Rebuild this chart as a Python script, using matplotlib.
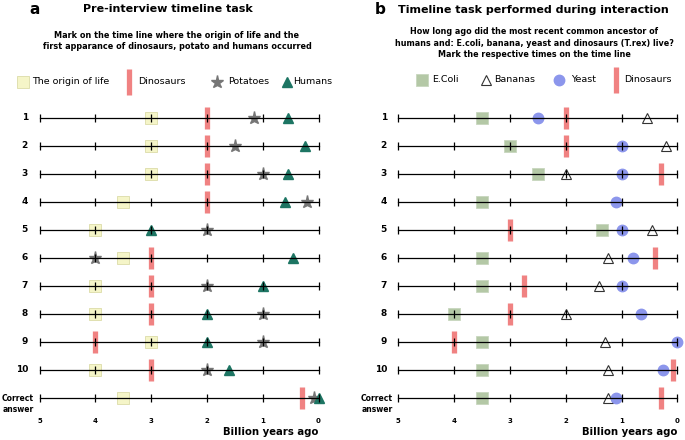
import numpy as np
import matplotlib as mplib
mplib.use('Agg')
import matplotlib.pyplot as plt

nan = np.nan

# rows: participants 1-10 plus the correct answer
row_labels = ['1', '2', '3', '4', '5', '6', '7', '8', '9', '10', 'Correct\nanswer']
time_ticks = [5, 4, 3, 2, 1, 0]

# panel a: pre-interview (billion years ago)
origin_a = [3, 3, 3, 3.5, 4, 3.5, 4, 4, 3, 4, 3.5]
dinos_a = [2, 2, 2, 2, nan, 3, 3, 3, 4, 3, 0.3]
potatoes_a = [1.15, 1.5, 1.0, 0.2, 2, 4, 2, 1, 1, 2, 0.08]
humans_a = [0.55, 0.25, 0.55, 0.6, 3, 0.45, 1, 2, 2, 1.6, 0.0]

# panel b: during interaction
ecoli_b = [3.5, 3, 2.5, 3.5, 1.35, 3.5, 3.5, 4, 3.5, 3.5, 3.5]
bananas_b = [0.55, 0.2, 2, nan, 0.45, 1.25, 1.4, 2, 1.3, 1.25, 1.25]
yeast_b = [2.5, 1, 1, 1.1, 1, 0.8, 1, 0.65, 0, 0.25, 1.1]
dinos_b = [2, 2, 0.3, nan, 3, 0.4, 2.75, 3, 4, 0.08, 0.3]

W, H = 685.0, 440.0
RED = '#f08282'
YEL = '#f5f5c8'
GREY = '#767676'
TEAL = '#1d7563'
GREEN = '#b4c8a6'
BLUE = '#8c96ec'

style = {
    'origin': dict(marker='s', ms=8, mfc=YEL, mec='#dcdca8', mew=0.6, zorder=2),
    'dino': dict(marker='|', ms=16, mew=3.8, color=RED, zorder=2),
    'potato': dict(marker='*', ms=9.5, color=GREY, mec=GREY, zorder=2),
    'human': dict(marker='^', ms=6.8, color=TEAL, zorder=2),
    'ecoli': dict(marker='s', ms=8, mfc=GREEN, mec='#c8d6be', mew=0.6, zorder=2),
    'banana': dict(marker='^', ms=6.8, mfc='white', mec='#333333', mew=0.8, zorder=2),
    'yeast': dict(marker='o', ms=7.5, color=BLUE, zorder=2),
}

fig = plt.figure(figsize=(W / 100, H / 100), dpi=100)
canvas = fig.add_axes([0, 0, 1, 1])
canvas.set_xlim(0, W)
canvas.set_ylim(H, 0)
canvas.axis('off')


def make_panel(x0, series, lab_x):
    ax = fig.add_axes([x0 / W, (H - 398) / H, 279 / W, 280 / H])
    ax.set_xlim(5, 0)
    ax.set_ylim(11, 1)
    ax.axis('off')
    rows = np.arange(1, 12)
    for y in rows:
        ax.plot([5, 0], [y, y], color='k', lw=0.9, zorder=3, clip_on=False)
        ax.plot(time_ticks, [y] * 6, ls='none', marker='|', ms=6, mew=0.9,
                color='k', zorder=3, clip_on=False)
    for vals, key in series:
        ax.plot(vals, rows, ls='none', clip_on=False, **style[key])
    for v in time_ticks:
        ax.text(v, 11 + 23 / 28., str(v), ha='center', va='center',
                fontsize=5, fontweight='bold')
    ax.text(0, 11 + 34 / 28., 'Billion years ago', ha='right', va='center',
            fontsize=7.3, fontweight='bold')
    for i, lab in enumerate(row_labels):
        if i < 10:
            canvas.text(lab_x, 118 + 28 * i, lab, ha='right', va='center',
                        fontsize=6.5, fontweight='bold')
        else:
            canvas.text(lab_x - 10, 404, lab, ha='center', va='center',
                        fontsize=5.5, fontweight='bold', linespacing=1.3)
    return ax


make_panel(39.5, [(origin_a, 'origin'), (dinos_a, 'dino'),
                  (potatoes_a, 'potato'), (humans_a, 'human')], 28)
make_panel(398.3, [(ecoli_b, 'ecoli'), (dinos_b, 'dino'),
                   (bananas_b, 'banana'), (yeast_b, 'yeast')], 387)

# titles
canvas.text(35, 9, 'a', ha='center', va='center', fontsize=11, fontweight='bold')
canvas.text(168, 9, 'Pre-interview timeline task', ha='center', va='center',
            fontsize=8, fontweight='bold')
canvas.text(177, 41, 'Mark on the time line where the origin of life and the\n'
            'first apparance of dinosaurs, potato and humans occurred',
            ha='center', va='center', fontsize=5.85, fontweight='bold', linespacing=1.4)
canvas.text(380, 10, 'b', ha='center', va='center', fontsize=11, fontweight='bold')
canvas.text(533, 10, 'Timeline task performed during interaction', ha='center',
            va='center', fontsize=8, fontweight='bold')
canvas.text(534, 43, 'How long ago did the most recent common ancestor of\n'
            'humans and: E.coli, banana, yeast and dinosaurs (T.rex) live?\n'
            'Mark the respective times on the time line',
            ha='center', va='center', fontsize=5.8, fontweight='bold', linespacing=1.4)

# legends
leg_a = [(23, 'origin', 32, 'The origin of life'), (129, 'dino', 138, 'Dinosaurs'),
         (217, 'potato', 228, 'Potatoes'), (287, 'human', 293, 'Humans')]
leg_b = [(422, 'ecoli', 432, 'E.Coli'), (486, 'banana', 494, 'Bananas'),
         (559, 'yeast', 571, 'Yeast'), (616, 'dino', 624, 'Dinosaurs')]
for legend, ly in ((leg_a, 82), (leg_b, 80)):
    for mx, key, tx, lab in legend:
        st = dict(style[key])
        if key == 'dino':
            st['ms'] = 19
        canvas.plot([mx], [ly], ls='none', **st)
        canvas.text(tx, ly, lab, ha='left', va='center', fontsize=6.8)

plt.savefig('out.png', dpi=100)
plt.close('all')
